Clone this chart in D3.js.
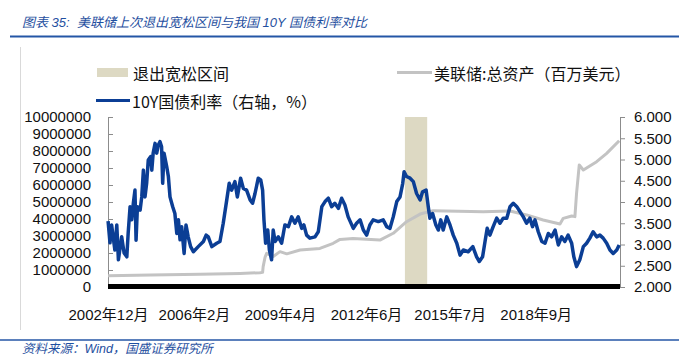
<!DOCTYPE html>
<html>
<head>
<meta charset="utf-8">
<script src="https://cdn.jsdelivr.net/npm/d3@7"></script>
<style>
  html, body { margin: 0; padding: 0; background: #fff; }
  svg { display: block; font-family: "Liberation Sans", Arial, "Noto Sans CJK SC", sans-serif; }
</style>
</head>
<body>
<svg id="chart" width="679" height="355"></svg>
<script>
// ---------- DATA ----------
const titleText = "图表 35:  美联储上次退出宽松区间与我国 10Y 国债利率对比";
const sourceText = "资料来源：Wind，国盛证券研究所";

const legendBand = "退出宽松区间";
const legendFed = "美联储:总资产（百万美元）";
const legendBond = "10Y国债利率（右轴，%）";

// x axis tick labels (decimal-year positions)
const tickYears = [2002.917, 2006.083, 2009.25, 2012.417, 2015.5, 2018.667];
const tickLabels = ["2002年12月", "2006年2月", "2009年4月", "2012年6月", "2015年7月", "2018年9月"];

const leftTicks = [0, 1000000, 2000000, 3000000, 4000000, 5000000, 6000000, 7000000, 8000000, 9000000, 10000000];
const rightTicks = [2.0, 2.5, 3.0, 3.5, 4.0, 4.5, 5.0, 5.5, 6.0];

// exit-easing period
const bandStart = 2013.85;
const bandEnd = 2014.67;

// Fed total assets (million USD)
const fedYears = [2002.92, 2004.49, 2006.31, 2007.78, 2008.51, 2008.61, 2008.63, 2008.70, 2008.76, 2009.00, 2009.25, 2009.50, 2009.99, 2010.72, 2011.21, 2011.46, 2011.94, 2012.93, 2013.42, 2013.91, 2014.41, 2014.89, 2016.73, 2017.72, 2018.33, 2018.94, 2019.56, 2019.68, 2019.99, 2020.11, 2020.17, 2020.27, 2020.42, 2020.91, 2021.28, 2021.74];
const fedAssets = [660000, 700000, 750000, 800000, 840000, 860000, 1200000, 1750000, 1980000, 1800000, 2080000, 1950000, 2180000, 2270000, 2570000, 2800000, 2860000, 2760000, 3160000, 3840000, 4290000, 4490000, 4430000, 4470000, 4240000, 3940000, 3710000, 4040000, 4180000, 4140000, 5510000, 7180000, 6880000, 7370000, 7860000, 8600000];

// China 10Y government bond yield (%)
const bondYears = [2002.92, 2002.99, 2003.05, 2003.17, 2003.24, 2003.30, 2003.42, 2003.51, 2003.61, 2003.66, 2003.73, 2003.79, 2003.85, 2003.91, 2003.95, 2004.00, 2004.10, 2004.16, 2004.22, 2004.28, 2004.34, 2004.40, 2004.49, 2004.53, 2004.58, 2004.65, 2004.71, 2004.77, 2004.83, 2004.89, 2004.93, 2004.98, 2005.08, 2005.14, 2005.20, 2005.30, 2005.38, 2005.45, 2005.51, 2005.57, 2005.63, 2005.72, 2005.79, 2005.87, 2005.96, 2006.06, 2006.24, 2006.43, 2006.53, 2006.61, 2006.74, 2006.92, 2007.04, 2007.16, 2007.29, 2007.38, 2007.47, 2007.59, 2007.68, 2007.80, 2007.90, 2008.02, 2008.15, 2008.24, 2008.33, 2008.45, 2008.54, 2008.61, 2008.66, 2008.72, 2008.80, 2008.86, 2008.94, 2009.00, 2009.07, 2009.19, 2009.31, 2009.43, 2009.56, 2009.68, 2009.80, 2009.92, 2010.05, 2010.13, 2010.23, 2010.35, 2010.54, 2010.66, 2010.79, 2010.91, 2011.03, 2011.15, 2011.27, 2011.40, 2011.52, 2011.64, 2011.76, 2011.95, 2012.07, 2012.20, 2012.32, 2012.44, 2012.56, 2012.68, 2012.87, 2013.05, 2013.18, 2013.30, 2013.42, 2013.55, 2013.67, 2013.77, 2013.82, 2013.91, 2014.04, 2014.16, 2014.28, 2014.41, 2014.50, 2014.63, 2014.71, 2014.77, 2014.87, 2014.99, 2015.08, 2015.17, 2015.26, 2015.39, 2015.51, 2015.63, 2015.76, 2015.88, 2016.00, 2016.18, 2016.35, 2016.49, 2016.59, 2016.71, 2016.80, 2016.88, 2016.98, 2017.10, 2017.23, 2017.35, 2017.47, 2017.60, 2017.72, 2017.84, 2017.97, 2018.09, 2018.21, 2018.33, 2018.45, 2018.55, 2018.64, 2018.76, 2018.89, 2019.01, 2019.13, 2019.25, 2019.38, 2019.50, 2019.62, 2019.74, 2019.86, 2019.99, 2020.07, 2020.17, 2020.29, 2020.42, 2020.54, 2020.66, 2020.78, 2020.91, 2021.03, 2021.15, 2021.28, 2021.40, 2021.52, 2021.65, 2021.74];
const bondYield = [3.55, 3.04, 3.46, 2.87, 3.46, 2.64, 3.18, 2.80, 2.71, 3.27, 3.89, 3.58, 3.97, 4.28, 3.10, 3.89, 3.81, 4.12, 4.75, 4.12, 4.44, 4.99, 5.07, 4.75, 5.15, 5.38, 5.15, 5.34, 5.42, 5.30, 4.44, 5.15, 4.83, 4.60, 4.12, 3.89, 3.73, 3.26, 3.58, 3.11, 3.42, 2.79, 3.46, 3.18, 2.95, 2.83, 2.95, 3.07, 3.22, 3.18, 2.95, 3.03, 3.07, 3.50, 4.05, 4.44, 4.28, 4.48, 4.12, 4.56, 4.32, 4.28, 4.05, 3.97, 4.20, 4.56, 4.52, 4.28, 3.58, 3.03, 3.34, 2.87, 2.64, 3.34, 3.07, 3.18, 3.03, 3.46, 3.42, 3.65, 3.50, 3.65, 3.38, 3.46, 3.22, 3.15, 3.18, 3.30, 3.89, 4.01, 4.09, 3.89, 3.97, 3.85, 4.09, 3.93, 3.65, 3.38, 3.50, 3.58, 3.34, 3.22, 3.46, 3.58, 3.54, 3.58, 3.42, 3.38, 3.65, 4.01, 4.12, 4.44, 4.71, 4.60, 4.56, 4.48, 4.20, 4.05, 4.24, 4.28, 3.89, 3.62, 3.73, 3.46, 3.34, 3.58, 3.34, 3.65, 3.46, 3.22, 3.03, 2.75, 2.87, 2.83, 2.95, 2.71, 2.60, 2.71, 3.07, 3.38, 3.22, 3.42, 3.62, 3.50, 3.62, 3.62, 3.89, 3.97, 3.89, 3.77, 3.65, 3.50, 3.62, 3.42, 3.58, 3.30, 3.07, 3.03, 3.26, 3.18, 3.34, 2.99, 3.18, 3.07, 3.22, 3.03, 2.71, 2.48, 2.64, 2.95, 3.03, 3.15, 3.30, 3.18, 3.22, 3.15, 3.03, 2.87, 2.79, 2.87, 2.99];

// ---------- CHART ----------
const svg = d3.select("#chart");
const plot = { left: 108, right: 620, top: 117, bottom: 287 };

const x = d3.scaleLinear().domain([2002.917, 2021.77]).range([plot.left, plot.right]);
const yL = d3.scaleLinear().domain([0, 10000000]).range([plot.bottom, plot.top]);
const yR = d3.scaleLinear().domain([2, 6]).range([plot.bottom, plot.top]);

const blue = "#0b3e95";
const gray = "#c3c3c3";
const beige = "#ddd9c3";
const titleBlue = "#1f4fa0";

// title
svg.append("text").attr("x", 22).attr("y", 27)
  .attr("font-size", 13).attr("font-style", "italic").attr("fill", titleBlue)
  .style("white-space", "pre")
  .text(titleText);
svg.append("line").attr("x1", 10).attr("x2", 679).attr("y1", 36.5).attr("y2", 36.5)
  .attr("stroke", "#2456a6").attr("stroke-width", 2);

// left frame line
svg.append("line").attr("x1", 20.5).attr("x2", 20.5).attr("y1", 47).attr("y2", 330)
  .attr("stroke", "#d9d9d9").attr("stroke-width", 1);

// bottom line & source
svg.append("line").attr("x1", 0).attr("x2", 679).attr("y1", 340).attr("y2", 340)
  .attr("stroke", "#2456a6").attr("stroke-width", 1.5);
svg.append("text").attr("x", 22).attr("y", 353)
  .attr("font-size", 12.5).attr("font-style", "italic").attr("fill", titleBlue)
  .text(sourceText);

// band
svg.append("rect")
  .attr("x", x(bandStart)).attr("width", x(bandEnd) - x(bandStart))
  .attr("y", plot.top).attr("height", plot.bottom - plot.top)
  .attr("fill", beige);

// left axis
const axL = svg.append("g").attr("transform", `translate(${plot.left},0)`)
  .call(d3.axisLeft(yL).tickValues(leftTicks).tickSizeInner(-5).tickSizeOuter(0).tickPadding(17)
    .tickFormat(d3.format("d")));
axL.select(".domain").attr("stroke", "#8c8c8c");
axL.selectAll(".tick line").attr("stroke", "#8c8c8c");
axL.selectAll("text").attr("font-size", 15).attr("fill", "#111").attr("font-family", "'Liberation Sans', Arial, sans-serif");

// right axis
const axR = svg.append("g").attr("transform", `translate(${plot.right},0)`)
  .call(d3.axisRight(yR).tickValues(rightTicks).tickSizeInner(5).tickSizeOuter(0).tickPadding(9)
    .tickFormat(d3.format(".3f")));
axR.select(".domain").attr("stroke", "#8c8c8c");
axR.selectAll(".tick line").attr("stroke", "#8c8c8c");
axR.selectAll("text").attr("font-size", 15).attr("fill", "#111").attr("font-family", "'Liberation Sans', Arial, sans-serif");

// fed line (left axis)
const fedData = fedYears.map((t, i) => [t, fedAssets[i]]);
svg.append("path").datum(fedData)
  .attr("fill", "none").attr("stroke", gray).attr("stroke-width", 3).attr("stroke-linejoin", "round")
  .attr("d", d3.line().x(d => x(d[0])).y(d => yL(d[1])));

// bond line (right axis)
const bondData = bondYears.map((t, i) => [t, bondYield[i]]);
svg.append("path").datum(bondData)
  .attr("fill", "none").attr("stroke", blue).attr("stroke-width", 3.5).attr("stroke-linejoin", "round")
  .attr("d", d3.line().x(d => x(d[0])).y(d => yR(d[1])));

// dense category-axis band at the bottom
svg.append("rect")
  .attr("x", x.range()[0]).attr("width", x.range()[1] - x.range()[0])
  .attr("y", plot.bottom - 3).attr("height", 5)
  .attr("fill", "#000");

// x axis labels
const axB = svg.append("g").attr("transform", `translate(0,${plot.bottom + 2})`)
  .call(d3.axisBottom(x).tickValues(tickYears).tickSize(0).tickPadding(20)
    .tickFormat((d, i) => tickLabels[i]));
axB.select(".domain").remove();
axB.selectAll("text").attr("font-size", 15).attr("fill", "#111")
  .attr("font-family", "'Liberation Sans', Arial, 'Noto Sans CJK SC', sans-serif");

// legend
const lg = svg.append("g").attr("font-size", 16).attr("fill", "#111")
  .attr("font-family", "'Noto Sans CJK SC', sans-serif");
lg.append("rect").attr("x", 97).attr("y", 68).attr("width", 31).attr("height", 9).attr("fill", beige);
lg.append("text").attr("x", 133).attr("y", 72.5).attr("dominant-baseline", "central").text(legendBand);
lg.append("line").attr("x1", 397).attr("x2", 432).attr("y1", 72.5).attr("y2", 72.5)
  .attr("stroke", gray).attr("stroke-width", 3);
lg.append("text").attr("x", 434).attr("y", 72.5).attr("dominant-baseline", "central").text(legendFed);
lg.append("line").attr("x1", 96).attr("x2", 130).attr("y1", 100.5).attr("y2", 100.5)
  .attr("stroke", blue).attr("stroke-width", 3);
lg.append("text").attr("x", 132).attr("y", 100.5).attr("dominant-baseline", "central").text(legendBond);
</script>
</body>
</html>
